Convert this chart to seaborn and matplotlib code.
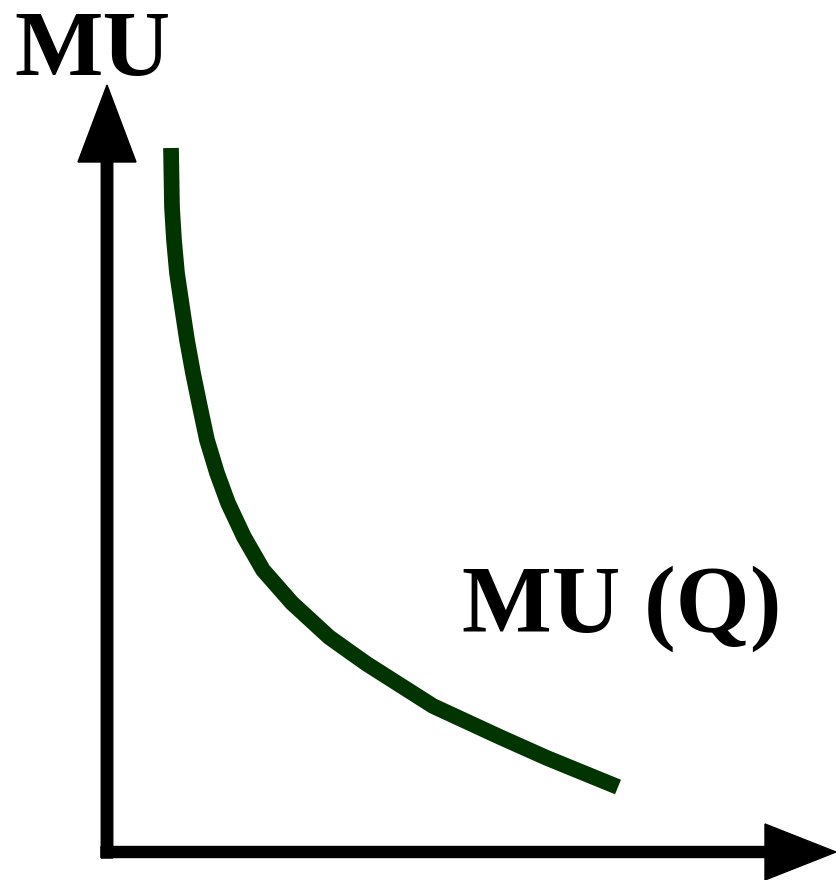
import matplotlib
matplotlib.use("Agg")
import matplotlib.pyplot as plt
import seaborn as sns
import pandas as pd

# Data (origin at the axes' corner)
quantity = [64, 65, 67, 70, 75, 80, 86, 93, 100, 110, 121, 137, 156, 185,
            222, 243, 260, 326, 393, 440, 511]
marginal_utility = [704, 645, 612, 579, 545, 512, 479, 445, 412, 379, 349,
                    315, 282, 249, 215, 200, 188, 146, 115, 94, 65]
y_label = "MU"
curve_label = "MU (Q)"

sns.set_style("white")
plt.rcParams["font.family"] = ["Liberation Serif", "DejaVu Serif"]

df = pd.DataFrame({"Q": quantity, "MU": marginal_utility})

fig = plt.figure(figsize=(8.36, 8.8), dpi=100)
ax = fig.add_axes([0, 0, 1, 1])
ax.set_xlim(-107, 729)
ax.set_ylim(-28, 852)
ax.axis("off")

sns.lineplot(data=df, x="Q", y="MU", sort=False, estimator=None, ax=ax,
             color="#013401", linewidth=11.3, solid_capstyle="butt",
             solid_joinstyle="round")

# axes with arrow heads
ax.arrow(0, -6, 0, 773, width=11.5, head_width=58, head_length=77,
         length_includes_head=True, color="black", zorder=3)
ax.arrow(-6, 0, 735, 0, width=11, head_width=56, head_length=71,
         length_includes_head=True, color="black", zorder=3)

ax.text(-93, 777, y_label, fontsize=67.5, fontweight="bold",
        ha="left", va="baseline", color="black")
ax.text(355, 220, curve_label, fontsize=68.5, fontweight="bold",
        ha="left", va="baseline", color="black")

fig.savefig("out.png", dpi=100, facecolor="white")
